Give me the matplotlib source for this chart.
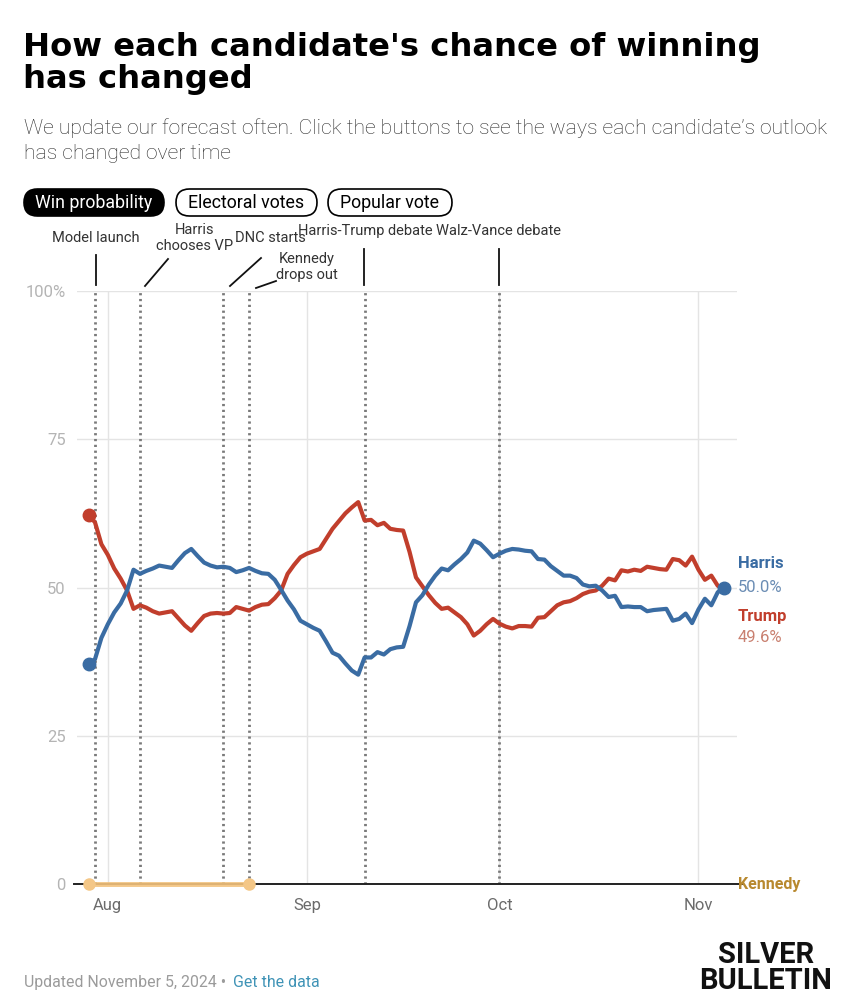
import numpy as np
import pandas as pd
import matplotlib
matplotlib.use("Agg")
import matplotlib.pyplot as plt
import matplotlib.dates as mdates
from matplotlib.patches import FancyBboxPatch

plt.rcParams['font.family'] = ['Roboto', 'DejaVu Sans']

# daily forecast, Jul 29 - Nov 5 2024
dates = pd.date_range("2024-07-29", "2024-11-05", freq="D")
trump = [62.2, 61.0, 57.3, 55.5, 53.2, 51.5, 49.5, 46.4, 47.0, 46.6,
         46.0, 45.6, 45.8, 46.0, 44.8, 43.6, 42.7, 44.0, 45.2, 45.6,
         45.7, 45.6, 45.7, 46.7, 46.4, 46.1, 46.7, 47.1, 47.2, 48.2,
         49.5, 52.3, 53.8, 55.1, 55.7, 56.1, 56.5, 58.2, 59.9, 61.2,
         62.5, 63.5, 64.4, 61.3, 61.4, 60.5, 60.9, 59.9, 59.7, 59.6,
         56.0, 51.7, 50.2, 48.7, 47.4, 46.4, 46.6, 45.8, 45.0, 43.8,
         41.9, 42.7, 43.8, 44.7, 43.9, 43.4, 43.1, 43.5, 43.5, 43.4,
         44.9, 45.0, 46.0, 47.0, 47.5, 47.7, 48.2, 48.9, 49.3, 49.5,
         50.3, 51.5, 51.2, 52.9, 52.7, 53.0, 52.8, 53.5, 53.3, 53.1,
         53.0, 54.8, 54.6, 53.7, 55.2, 53.0, 51.3, 52.0, 50.3, 49.6]
harris = [37.1, 37.9, 41.5, 43.8, 45.8, 47.3, 49.5, 53.0, 52.3, 52.8,
          53.2, 53.7, 53.5, 53.3, 54.6, 55.8, 56.5, 55.3, 54.2, 53.7,
          53.4, 53.5, 53.3, 52.6, 52.9, 53.3, 52.8, 52.4, 52.3, 51.3,
          49.6, 47.8, 46.3, 44.4, 43.8, 43.2, 42.7, 40.9, 39.0, 38.5,
          37.2, 36.0, 35.3, 38.2, 38.2, 39.1, 38.7, 39.6, 39.9, 40.0,
          43.5, 47.5, 48.7, 50.5, 52.0, 53.2, 52.9, 53.9, 54.8, 55.9,
          57.9, 57.4, 56.3, 55.1, 55.7, 56.2, 56.5, 56.4, 56.2, 56.1,
          54.8, 54.7, 53.6, 52.8, 52.0, 52.0, 51.6, 50.5, 50.2, 50.3,
          49.5, 48.4, 48.6, 46.7, 46.8, 46.7, 46.7, 46.0, 46.2, 46.3,
          46.4, 44.4, 44.7, 45.6, 44.0, 46.3, 48.1, 47.0, 49.2, 50.0]
kennedy_dates = pd.to_datetime(["2024-07-29", "2024-08-23"])
kennedy = [0.0, 0.0]

event_dates = pd.to_datetime(["2024-07-30", "2024-08-06", "2024-08-19",
                              "2024-08-23", "2024-09-10", "2024-10-01"])
month_ticks = pd.to_datetime(["2024-08-01", "2024-09-01", "2024-10-01", "2024-11-01"])
month_labels = ["Aug", "Sep", "Oct", "Nov"]

BLUE = "#3a6ca3"
RED = "#c13e2c"
GOLD = "#b8892f"

W, H = 850, 998
fig = plt.figure(figsize=(W / 100, H / 100), dpi=100)

# main chart axes (pixel box 77..737 x 291..884)
ax = fig.add_axes([77 / W, (H - 884) / H, (737 - 77) / W, (884 - 291) / H])
aug1 = mdates.date2num(pd.Timestamp("2024-08-01"))
ax.set_xlim(aug1 - 4.8, aug1 + 98.0)
ax.set_ylim(0, 100)

for s in ax.spines.values():
    s.set_visible(False)
ax.set_yticks([0, 25, 50, 75, 100])
ax.set_yticklabels(["0", "25", "50", "75", "100%"])
ax.set_xticks(month_ticks)
ax.set_xticklabels(month_labels)
ax.tick_params(axis="y", length=0, pad=8, labelsize=12, labelcolor="#b4b4b4")
ax.tick_params(axis="x", length=0, pad=10, labelsize=12, labelcolor="#6b6b6b")
ax.grid(True, color="#e4e4e4", lw=1)
ax.set_axisbelow(True)

for d in event_dates:
    ax.axvline(d, color="#7a7a7a", lw=2, ls=(0, (0.8, 1.3)), zorder=2)

ax.plot([aug1 - 5.3, aug1 + 98.8], [0, 0], color="#222", lw=1.4, zorder=2, clip_on=False)
ax.plot(kennedy_dates, kennedy, color="#f3c27c", lw=3.5, alpha=0.9,
        solid_capstyle="round", zorder=3, clip_on=False)
ax.plot(kennedy_dates, kennedy, "o", color="#f4c787", ms=8, zorder=3, clip_on=False)

ax.plot(dates, trump, color=RED, lw=3, zorder=4, solid_joinstyle="round")
ax.plot(dates, harris, color=BLUE, lw=3, zorder=5, solid_joinstyle="round")
ax.plot(dates[0], trump[0], "o", color=RED, ms=9, zorder=6)
ax.plot(dates[0], harris[0], "o", color=BLUE, ms=9, zorder=6)
ax.plot(dates[-1], harris[-1], "o", color=BLUE, ms=9, zorder=6)

# overlay in pixel coordinates for text and buttons
bg = fig.add_axes([0, 0, 1, 1], zorder=10)
bg.set_xlim(0, W)
bg.set_ylim(H, 0)
bg.axis("off")
bg.set_facecolor("none")

title_font = dict(fontsize=23.2, fontweight="bold", color="#000", va="baseline",
                  family=["DejaVu Sans"])
bg.text(23, 56, "How each candidate's chance of winning", **title_font)
bg.text(23, 88, "has changed", **title_font)
sub_font = dict(fontsize=15.2, fontweight="light", color="#2a2a2a", va="baseline")
bg.text(24, 134, "We update our forecast often. Click the buttons to see the ways each candidate\u2019s outlook",
        **sub_font)
bg.text(24, 159, "has changed over time", **sub_font)

buttons = [("Win probability", 24, 164, True),
           ("Electoral votes", 176, 317, False),
           ("Popular vote", 328, 452, False)]
for label, x0, x1, active in buttons:
    box = FancyBboxPatch((x0, 189), x1 - x0, 27, boxstyle="round,pad=0,rounding_size=13.5",
                         fc="#000" if active else "white", ec="#000", lw=1.2)
    bg.add_patch(box)
    bg.text((x0 + x1) / 2, 203, label, fontsize=12.8, ha="center", va="center",
            color="white" if active else "#000")

# event labels and leader lines
ann = dict(fontsize=10.5, color="#333", ha="center", va="center", linespacing=1.15)
bg.text(96, 238, "Model launch", **ann)
bg.text(195, 238, "Harris\nchooses VP", **ann)
bg.text(270, 238, "DNC starts", **ann)
bg.text(307, 267, "Kennedy\ndrops out", **ann)
bg.text(365, 231, "Harris-Trump debate", **ann)
bg.text(499, 231, "Walz-Vance debate", **ann)
leaders = [((96, 255), (96, 285)), ((168, 259), (145, 286)), ((261, 258), (230, 286)),
           ((276, 281), (256, 288)), ((364, 249), (364, 285)), ((499, 249), (499, 285))]
for (xa, ya), (xb, yb) in leaders:
    bg.plot([xa, xb], [ya, yb], color="#111", lw=1.3)

# end labels
bg.text(738, 564, "Harris", fontsize=12, fontweight="bold", color=BLUE, va="center")
bg.text(738, 587, "50.0%", fontsize=12, color="#6b8db4", va="center")
bg.text(738, 616, "Trump", fontsize=12, fontweight="bold", color=RED, va="center")
bg.text(738, 637, "49.6%", fontsize=12, color="#c98070", va="center")
bg.text(738, 885, "Kennedy", fontsize=11.5, fontweight="bold", color=GOLD, va="center")

# footer
bg.text(24, 987, "Updated November 5, 2024 \u2022", fontsize=11.4, color="#9b9b9b", va="baseline")
bg.text(233, 987, "Get the data", fontsize=11.4, color="#3f93b6", va="baseline")
bg.text(766, 968, "SILVER\nBULLETIN", fontsize=21, fontweight="bold", color="#111",
        ha="center", va="center", multialignment="center", linespacing=0.88)

fig.savefig("out.png", dpi=100, facecolor="white")
